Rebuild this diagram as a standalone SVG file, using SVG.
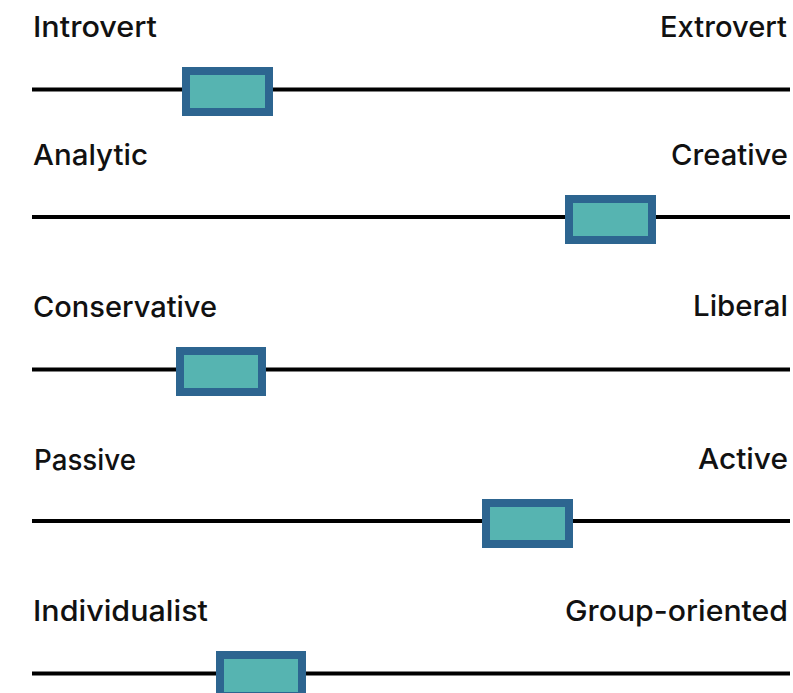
<svg xmlns="http://www.w3.org/2000/svg" width="793" height="693" viewBox="0 0 793 693">
<style>
.lbl{font-family:"Inter","Liberation Sans",Arial,sans-serif;font-size:29px;font-weight:500;fill:#111;}
.r{text-anchor:end;}
.track{stroke:#000;stroke-width:4;fill:none;}
.knob{fill:#56B4B1;stroke:#2D6590;stroke-width:8;}
</style>
<rect width="793" height="693" fill="#fff"/>
<g id="connectors">
<line class="track" x1="32" y1="89.5" x2="790" y2="89.5"/>
<line class="track" x1="32" y1="217" x2="790" y2="217"/>
<line class="track" x1="32" y1="369.5" x2="790" y2="369.5"/>
<line class="track" x1="32" y1="521" x2="790" y2="521"/>
<line class="track" x1="32" y1="673.5" x2="790" y2="673.5"/>
</g>
<g id="slider1">
<text class="lbl" x="33" y="37" textLength="124" lengthAdjust="spacingAndGlyphs">Introvert</text>
<text class="lbl r" x="787" y="37" textLength="127" lengthAdjust="spacingAndGlyphs">Extrovert</text>
<rect class="knob" x="186" y="71" width="83" height="41"/>
</g>
<g id="slider2">
<text class="lbl" x="33" y="165" textLength="115" lengthAdjust="spacingAndGlyphs">Analytic</text>
<text class="lbl r" x="788" y="165" textLength="117" lengthAdjust="spacingAndGlyphs">Creative</text>
<rect class="knob" x="569" y="199" width="83" height="41"/>
</g>
<g id="slider3">
<text class="lbl" x="33" y="317" textLength="184" lengthAdjust="spacingAndGlyphs">Conservative</text>
<text class="lbl r" x="788" y="316" textLength="95" lengthAdjust="spacingAndGlyphs">Liberal</text>
<rect class="knob" x="180" y="351" width="82" height="41"/>
</g>
<g id="slider4">
<text class="lbl" x="34" y="470" textLength="102" lengthAdjust="spacingAndGlyphs">Passive</text>
<text class="lbl r" x="788" y="469" textLength="90" lengthAdjust="spacingAndGlyphs">Active</text>
<rect class="knob" x="486" y="503" width="83" height="41"/>
</g>
<g id="slider5">
<text class="lbl" x="33" y="621" textLength="175" lengthAdjust="spacingAndGlyphs">Individualist</text>
<text class="lbl r" x="788" y="621" textLength="223" lengthAdjust="spacingAndGlyphs">Group-oriented</text>
<rect class="knob" x="220" y="655" width="82" height="41"/>
</g>
</svg>
